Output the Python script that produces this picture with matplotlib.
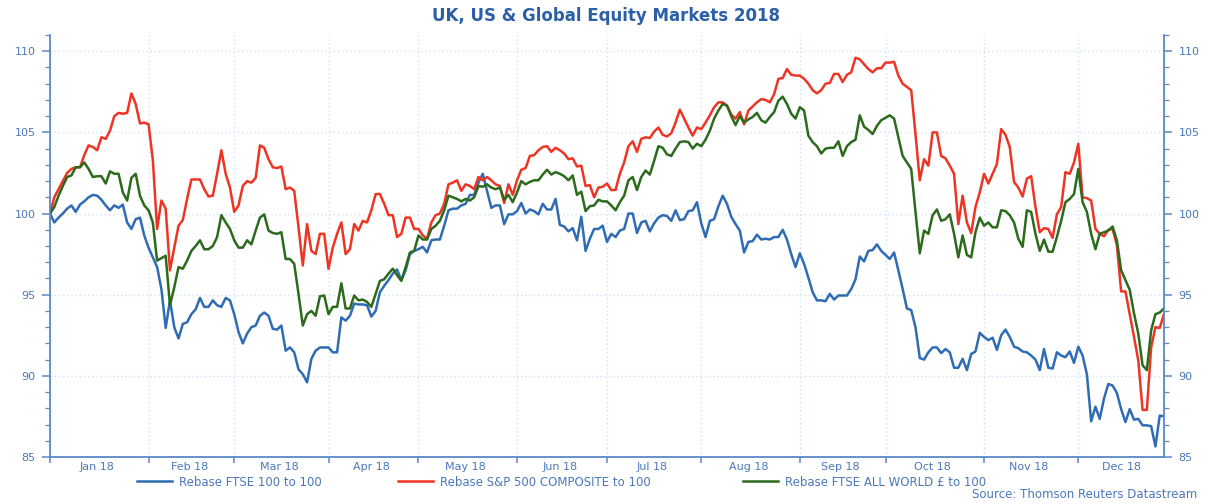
## UK, US & GLOBAL EQUITY MARKETS 2018 ##
#------------------------------------------##
#  Rebased index levels (first day = 100), business-day x-axis
#  like the Datastream chart. Export as out.png.
##-----------------------------------------##

## IMPORT LIBRARIES ##
import numpy as np
import pandas as pd
import matplotlib
matplotlib.use('Agg')
import matplotlib.pyplot as plt     # to plot
import matplotlib.ticker as tkr     # for tick locators


## DATA ##
# one value per business day of 2018
dates = pd.bdate_range('2018-01-01', '2018-12-31')

ftse100 = [
    100.0, 99.45, 99.75, 100.0, 100.3, 100.5, 100.1, 100.55, 100.75, 101.0,
    101.15, 101.1, 100.85, 100.5, 100.2, 100.5, 100.35, 100.55, 99.45, 99.05,
    99.65, 99.75, 98.65, 97.9, 97.3, 96.7, 95.35, 92.95, 94.65, 93.0,
    92.3, 93.2, 93.3, 93.8, 94.1, 94.8, 94.25, 94.25, 94.65, 94.35,
    94.25, 94.8, 94.65, 93.8, 92.7, 92.0, 92.6, 93.0, 93.1, 93.7,
    93.9, 93.7, 92.9, 92.85,
    93.1, 91.55, 91.75, 91.45, 90.4, 90.1, 89.6, 91.05, 91.55, 91.75,
    91.75, 91.75, 91.45, 91.45, 93.6, 93.4, 93.7, 94.45, 94.4, 94.4,
    94.35, 93.65, 94.0, 95.15, 95.55, 95.9, 96.3, 96.55, 95.9, 96.5,
    97.5, 97.7, 97.8, 97.95, 97.6, 98.35, 98.4, 98.4, 99.25, 100.2,
    100.3, 100.3, 100.5, 100.6, 101.15, 101.15, 101.9, 102.45, 101.4, 100.35,
    100.5, 100.5, 99.35, 99.95,
    99.95, 100.15, 100.65, 100.0, 100.25, 100.15, 99.95, 100.6, 100.25, 100.25,
    100.9, 99.3, 99.2, 98.9, 99.1, 98.35, 99.8, 97.7, 98.45, 99.05,
    99.05, 99.25, 98.25, 98.75, 98.55, 98.95, 99.05, 100.0, 100.0, 98.8,
    99.45, 99.55, 98.9, 99.4, 99.75, 99.9, 99.85, 99.55, 100.2, 99.6,
    99.65, 100.15, 100.2, 100.7, 99.4, 98.55, 99.55, 99.65, 100.45, 101.1,
    100.6, 99.8, 99.35,
    98.95, 97.6, 98.25, 98.3, 98.7, 98.4, 98.45, 98.4, 98.55, 98.55,
    99.0, 98.4, 97.5, 96.7, 97.55, 96.9, 96.05, 95.15, 94.65, 94.65,
    94.6, 95.05, 94.7, 94.95, 94.95, 94.95, 95.35, 95.95, 97.35, 97.05,
    97.7, 97.75, 98.1, 97.7, 97.45, 97.2, 97.6, 96.5, 95.35, 94.15,
    94.05, 93.0, 91.1, 91.0, 91.45, 91.75, 91.75, 91.4, 91.65, 91.45,
    90.5, 90.5, 91.05, 90.35,
    91.35, 91.5, 92.65, 92.4, 92.2, 92.35, 91.6, 92.5, 92.85, 92.4,
    91.8, 91.7, 91.5, 91.45, 91.25, 91.0, 90.35, 91.65, 90.5, 90.45,
    91.45, 91.25, 91.15, 91.5, 90.8, 91.8, 91.25, 90.1, 87.2, 88.1,
    87.35, 88.6, 89.5, 89.4, 88.95, 87.95, 87.15, 87.95, 87.3, 87.35,
    86.95, 86.95, 86.9, 85.65, 87.55, 87.5,
]

sp500 = [
    100.0, 101.0, 101.5, 102.0, 102.5, 102.75, 102.85, 102.85, 103.6, 104.2,
    104.1, 103.9, 104.7, 104.6, 105.1, 106.0, 106.2, 106.15, 106.2, 107.4,
    106.75, 105.55, 105.6, 105.5, 103.3, 99.05, 100.8, 100.3, 96.5, 97.9,
    99.25, 99.6, 100.9, 102.1, 102.1, 102.1, 101.5, 101.05, 101.1, 102.45,
    103.9, 102.45, 101.6, 100.1, 100.5, 101.7, 102.0, 101.9, 102.2, 104.2,
    104.05, 103.35, 102.85, 102.8,
    102.9, 101.5, 101.6, 101.4, 99.15, 96.8, 99.35, 97.7, 97.5, 98.75,
    98.75, 96.6, 97.9, 98.75, 99.45, 97.5, 97.8, 99.35, 98.95, 99.55,
    99.45, 100.2, 101.2, 101.2, 100.6, 99.9, 99.9, 98.55, 98.75, 99.75,
    99.75, 99.05, 99.05, 98.65, 98.45, 99.45, 99.9, 100.0, 100.6, 101.8,
    101.9, 102.05, 101.4, 101.8, 101.7, 101.5, 102.25, 102.05, 102.25, 102.05,
    101.8, 101.7, 100.65, 101.8,
    101.15, 102.05, 102.7, 102.8, 103.55, 103.6, 103.9, 104.1, 104.15, 103.8,
    104.05, 103.9, 103.7, 103.35, 103.4, 102.9, 102.95, 101.7, 101.75, 101.0,
    101.6, 101.65, 101.85, 101.45, 101.45, 102.45, 103.15, 104.15, 104.45, 103.8,
    104.6, 104.7, 104.65, 105.05, 105.3, 104.85, 104.75, 104.95, 105.6, 106.4,
    105.85, 105.3, 104.8, 105.3, 105.2, 105.6, 106.05, 106.55, 106.85, 106.85,
    106.65, 106.1, 105.85,
    106.25, 105.5, 106.35, 106.6, 106.85, 107.05, 107.0, 106.85, 107.35, 108.3,
    108.35, 108.9, 108.55, 108.5, 108.5, 108.3, 108.0, 107.6, 107.4, 107.6,
    108.0, 108.05, 108.6, 108.6, 108.1, 108.55, 108.7, 109.6, 109.5, 109.2,
    108.9, 108.7, 108.95, 108.95, 109.3, 109.3, 109.35, 108.5, 108.0, 107.8,
    107.6, 104.9, 102.05, 103.35, 102.95, 105.0, 105.0, 103.55, 103.4, 102.95,
    102.45, 99.35, 101.1, 99.45,
    98.8, 100.4, 101.3, 102.45, 101.85, 102.45, 103.05, 105.2, 104.85, 104.1,
    101.95, 101.6, 101.05, 102.15, 102.3, 100.4, 98.85, 99.1, 99.05, 98.5,
    99.95, 100.4, 102.55, 102.45, 103.15, 104.3, 101.0, 100.95, 100.8, 99.05,
    98.75, 98.6, 99.0, 99.05, 98.05, 95.2, 95.2, 93.8, 92.4, 90.95,
    87.9, 87.9, 91.75, 93.0, 92.95, 93.8,
]

allworld = [
    100.0, 100.4, 101.1, 101.7, 102.25, 102.35, 102.85, 102.85, 103.15, 102.75,
    102.25, 102.3, 102.3, 101.85, 102.6, 102.45, 102.45, 101.3, 100.8, 102.2,
    102.45, 101.1, 100.5, 100.2, 99.45, 97.1, 97.25, 97.4, 94.35, 95.45,
    96.7, 96.6, 97.1, 97.7, 98.0, 98.35, 97.8, 97.8, 98.0, 98.55,
    99.9, 99.45, 99.05, 98.35, 97.9, 97.9, 98.35, 98.1, 98.95, 99.75,
    99.95, 98.95, 98.8, 98.75,
    98.85, 97.2, 97.2, 96.9, 95.05, 93.1, 93.8, 94.0, 93.7, 94.9,
    94.95, 93.8, 94.25, 94.25, 95.7, 94.15, 94.15, 94.95, 94.65, 94.7,
    94.55, 94.25, 95.05, 95.85, 95.95, 96.3, 96.6, 96.2, 95.85, 96.7,
    97.6, 97.7, 98.65, 98.4, 98.4, 99.05, 99.25, 99.55, 100.2, 101.1,
    101.0, 100.9, 100.75, 100.9, 100.8, 101.0, 101.7, 101.65, 101.8, 101.6,
    101.5, 101.6, 100.85, 101.15,
    100.7, 101.3, 102.0, 101.8, 101.95, 102.05, 102.05, 102.4, 102.7, 102.4,
    102.55, 102.45, 102.3, 102.05, 102.35, 101.15, 101.35, 100.15, 100.45, 100.5,
    100.85, 100.75, 100.75, 100.5, 100.2, 100.7, 101.1, 102.05, 102.25, 101.45,
    102.25, 102.65, 102.4, 103.25, 104.15, 104.05, 103.65, 103.55, 104.0, 104.4,
    104.45, 104.4, 104.0, 104.3, 104.15, 104.55, 105.1, 105.85, 106.35, 106.75,
    106.65, 106.0, 105.45,
    106.0, 105.6, 105.8, 105.95, 106.2, 105.75, 105.6, 105.95, 106.25, 106.95,
    107.2, 106.75, 106.15, 105.85, 106.55, 106.35, 104.8, 104.4, 104.15, 103.7,
    104.0, 104.05, 104.05, 104.45, 103.55, 104.15, 104.4, 104.55, 106.05, 105.35,
    105.15, 104.9, 105.4, 105.75, 105.9, 106.05, 105.85, 104.7, 103.55, 103.15,
    102.75, 100.1, 97.55, 98.95, 98.75, 99.9, 100.25, 99.55, 99.65, 99.95,
    98.75, 97.3, 98.65, 97.45,
    97.3, 98.85, 99.75, 99.25, 99.45, 99.15, 99.15, 100.2, 100.15, 99.9,
    99.45, 98.45, 97.95, 100.2, 100.1, 98.75, 97.7, 98.4, 97.65, 97.65,
    98.55, 99.55, 100.7, 100.9, 101.2, 102.75, 100.7, 100.1, 98.75, 97.8,
    98.75, 98.85, 98.95, 99.2, 98.35, 96.5, 95.9, 95.3, 93.85, 92.6,
    90.65, 90.35, 92.8, 93.8, 93.9, 94.15,
]

series_labels = ["Rebase FTSE 100 to 100",
                 "Rebase S&P 500 COMPOSITE to 100",
                 "Rebase FTSE ALL WORLD £ to 100"]
title = "UK, US & Global Equity Markets 2018"
source = "Source: Thomson Reuters Datastream"


## STYLE ##
fig_w_px, fig_h_px = 1212, 504
axis_blue  = '#5b88c6'
text_blue  = '#4b78ba'
title_blue = '#2c60a6'
grid_blue  = '#cfe1f5'
line_colors = ['#2f6cb3', '#ee3524', '#2c6a1c']
line_width = 1.8
tick_size = 8
text_size = 8.5


## FUNCTIONS ##
def px2fig_x(px):
    return px / fig_w_px

def px2fig_y(px):
    return 1 - px / fig_h_px

def plot_series(ax, x, y, label, color):
    out, = ax.plot(x, y, color=color, linewidth=line_width, label=label,
                   solid_joinstyle='round')
    return out

def set_month_axis(ax, dates):
    # major ticks at month boundaries, labels centred in each month
    months = dates.to_period('M')
    starts = np.flatnonzero(np.r_[True, months[1:] != months[:-1]])
    ends = np.r_[starts[1:], len(dates)]
    mids = (starts + ends - 1) / 2
    ax.xaxis.set_major_locator(tkr.FixedLocator(starts))
    ax.xaxis.set_major_formatter(tkr.NullFormatter())
    ax.xaxis.set_minor_locator(tkr.FixedLocator(mids))
    ax.xaxis.set_minor_formatter(tkr.FixedFormatter(
        [d.strftime('%b %y') for d in dates[starts]]))
    ax.tick_params(axis='x', which='major', direction='out', length=4,
                   width=1.1, color=axis_blue)
    ax.tick_params(axis='x', which='minor', length=0, pad=3.5,
                   labelsize=tick_size, labelcolor=text_blue)
    print("DONE: Set month axis")

def set_value_axis(ax):
    ax.set_ylim(85, 111)
    ax.yaxis.set_major_locator(tkr.MultipleLocator(5))
    ax.yaxis.set_minor_locator(tkr.MultipleLocator(1))
    ax.tick_params(axis='y', which='both', direction='out', color=axis_blue,
                   left=True, right=True, labelleft=True, labelright=True,
                   labelsize=tick_size, labelcolor=text_blue)
    ax.tick_params(axis='y', which='major', length=6, width=1.1, pad=4.5)
    ax.tick_params(axis='y', which='minor', length=3.5, width=0.9)
    print("DONE: Set value axis")

def set_frame(ax):
    ax.spines['top'].set_visible(False)
    for side in ['left', 'right', 'bottom']:
        ax.spines[side].set_color(axis_blue)
        ax.spines[side].set_linewidth(1.3)
    ax.grid(True, which='major', color=grid_blue, linestyle=(0, (1, 2)),
            linewidth=1.0)
    ax.set_axisbelow(True)
    print("DONE: Set frame and grid")


## MAIN ##
plt.rcParams['font.family'] = ['DejaVu Sans']
print("points per series:", len(dates), len(ftse100), len(sp500), len(allworld))

fig = plt.figure(figsize=(fig_w_px / 100, fig_h_px / 100), dpi=100)
ax = fig.add_axes([px2fig_x(50), 1 - 457 / fig_h_px,
                   (1164 - 50) / fig_w_px, (457 - 35) / fig_h_px])

x = np.arange(len(dates))
lines = []
for y, label, color in zip([ftse100, sp500, allworld], series_labels, line_colors):
    lines.append(plot_series(ax, x[:len(y)], y, label, color))

ax.set_xlim(0, len(dates) - 1)
set_month_axis(ax, dates)
set_value_axis(ax)
set_frame(ax)

fig.text(px2fig_x(606), px2fig_y(16), title, ha='center', va='center',
         fontsize=12, fontweight='bold', color=title_blue)

# one small legend per series, placed like the original row under the axis
legend_starts = [137, 398, 743]
for line, label, start in zip(lines, series_labels, legend_starts):
    fig.legend([line], [label], loc='center left',
               bbox_to_anchor=(px2fig_x(start), px2fig_y(482)),
               frameon=False, fontsize=text_size, labelcolor=text_blue,
               handlelength=3.0, handletextpad=0.55, borderpad=0,
               borderaxespad=0)

fig.text(px2fig_x(1197), px2fig_y(494), source, ha='right', va='center',
         fontsize=text_size, color=text_blue)

fig.savefig('out.png', dpi=100)
print("DONE: Exported out.png")
